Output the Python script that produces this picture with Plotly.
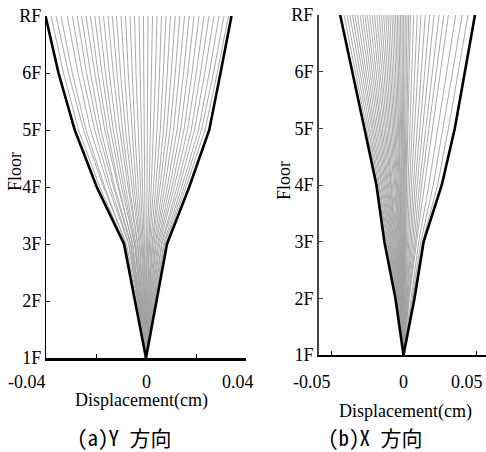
import plotly.graph_objects as go

W, H = 486, 452

FLOORS = ["1F", "2F", "3F", "4F", "5F", "6F", "RF"]
FLOOR_POS = [1, 2, 3, 4, 5, 6, 7]

# ---- (a) Y direction : displacement (cm) at 2F..RF (1F = 0) ----
ENV_A_LEFT = [-0.0044, -0.0088, -0.0197, -0.0285, -0.0350, -0.0402]
ENV_A_RIGHT = [0.0042, 0.0084, 0.0173, 0.0253, 0.0298, 0.0342]

GRAY_A = [
    [-0.0040, -0.0085, -0.0185, -0.0270, -0.0330, -0.0380],
    [-0.0035, -0.0078, -0.0170, -0.0250, -0.0310, -0.0360],
    [-0.0040, -0.0082, -0.0165, -0.0240, -0.0295, -0.0340],
    [-0.0033, -0.0070, -0.0150, -0.0222, -0.0272, -0.0315],
    [-0.0030, -0.0068, -0.0142, -0.0205, -0.0255, -0.0295],
    [-0.0032, -0.0062, -0.0130, -0.0192, -0.0238, -0.0275],
    [-0.0028, -0.0060, -0.0125, -0.0180, -0.0222, -0.0258],
    [-0.0025, -0.0052, -0.0112, -0.0165, -0.0205, -0.0240],
    [-0.0027, -0.0055, -0.0108, -0.0155, -0.0192, -0.0222],
    [-0.0022, -0.0046, -0.0098, -0.0142, -0.0176, -0.0205],
    [-0.0020, -0.0044, -0.0090, -0.0131, -0.0162, -0.0188],
    [-0.0019, -0.0040, -0.0082, -0.0118, -0.0147, -0.0170],
    [-0.0016, -0.0034, -0.0072, -0.0105, -0.0131, -0.0152],
    [-0.0017, -0.0033, -0.0066, -0.0094, -0.0116, -0.0135],
    [-0.0012, -0.0027, -0.0056, -0.0082, -0.0102, -0.0118],
    [-0.0011, -0.0024, -0.0048, -0.0070, -0.0086, -0.0100],
    [-0.0010, -0.0019, -0.0040, -0.0057, -0.0071, -0.0082],
    [-0.0007, -0.0015, -0.0031, -0.0045, -0.0055, -0.0064],
    [-0.0006, -0.0011, -0.0022, -0.0032, -0.0040, -0.0046],
    [-0.0003, -0.0007, -0.0014, -0.0019, -0.0024, -0.0028],
    [-0.0001, -0.0002, -0.0005, -0.0007, -0.0009, -0.0010],
    [0.0001, 0.0002, 0.0004, 0.0006, 0.0007, 0.0008],
    [0.0003, 0.0006, 0.0013, 0.0018, 0.0022, 0.0026],
    [0.0005, 0.0011, 0.0021, 0.0031, 0.0038, 0.0044],
    [0.0007, 0.0014, 0.0030, 0.0044, 0.0054, 0.0062],
    [0.0009, 0.0019, 0.0039, 0.0057, 0.0069, 0.0080],
    [0.0011, 0.0024, 0.0048, 0.0070, 0.0085, 0.0098],
    [0.0013, 0.0027, 0.0056, 0.0083, 0.0101, 0.0117],
    [0.0015, 0.0032, 0.0066, 0.0096, 0.0117, 0.0135],
    [0.0018, 0.0037, 0.0075, 0.0110, 0.0133, 0.0154],
    [0.0019, 0.0040, 0.0085, 0.0124, 0.0150, 0.0173],
    [0.0022, 0.0046, 0.0094, 0.0138, 0.0167, 0.0192],
    [0.0024, 0.0050, 0.0104, 0.0152, 0.0184, 0.0212],
    [0.0026, 0.0055, 0.0113, 0.0166, 0.0201, 0.0232],
    [0.0030, 0.0061, 0.0124, 0.0181, 0.0218, 0.0252],
    [0.0031, 0.0064, 0.0133, 0.0194, 0.0235, 0.0272],
    [0.0034, 0.0070, 0.0143, 0.0210, 0.0253, 0.0292],
    [0.0036, 0.0074, 0.0152, 0.0222, 0.0270, 0.0312],
    [0.0038, 0.0079, 0.0160, 0.0236, 0.0285, 0.0330],
]

# ---- (b) X direction ----
ENV_B_LEFT = [-0.0056, -0.0132, -0.0187, -0.0270, -0.0354, -0.0437]
ENV_B_RIGHT = [0.0076, 0.0139, 0.0264, 0.0354, 0.0424, 0.0493]

GRAY_B = [
    [-0.0052, -0.0122, -0.0180, -0.0255, -0.0333, -0.0410],
    [-0.0050, -0.0115, -0.0172, -0.0243, -0.0317, -0.0390],
    [-0.0047, -0.0110, -0.0165, -0.0232, -0.0300, -0.0370],
    [-0.0045, -0.0103, -0.0156, -0.0220, -0.0286, -0.0352],
    [-0.0043, -0.0098, -0.0149, -0.0210, -0.0272, -0.0335],
    [-0.0042, -0.0094, -0.0141, -0.0199, -0.0258, -0.0318],
    [-0.0038, -0.0088, -0.0133, -0.0188, -0.0244, -0.0300],
    [-0.0036, -0.0084, -0.0126, -0.0177, -0.0230, -0.0283],
    [-0.0035, -0.0078, -0.0118, -0.0166, -0.0216, -0.0266],
    [-0.0032, -0.0074, -0.0111, -0.0156, -0.0203, -0.0250],
    [-0.0030, -0.0069, -0.0104, -0.0146, -0.0189, -0.0233],
    [-0.0028, -0.0064, -0.0096, -0.0135, -0.0175, -0.0216],
    [-0.0026, -0.0059, -0.0089, -0.0125, -0.0162, -0.0200],
    [-0.0024, -0.0054, -0.0082, -0.0115, -0.0149, -0.0184],
    [-0.0022, -0.0050, -0.0075, -0.0105, -0.0136, -0.0168],
    [-0.0020, -0.0045, -0.0068, -0.0095, -0.0123, -0.0152],
    [-0.0018, -0.0040, -0.0061, -0.0086, -0.0111, -0.0137],
    [-0.0016, -0.0036, -0.0054, -0.0076, -0.0099, -0.0122],
    [-0.0014, -0.0032, -0.0048, -0.0068, -0.0088, -0.0108],
    [-0.0012, -0.0028, -0.0042, -0.0059, -0.0076, -0.0094],
    [-0.0010, -0.0024, -0.0036, -0.0050, -0.0065, -0.0080],
    [-0.0009, -0.0020, -0.0030, -0.0042, -0.0054, -0.0067],
    [-0.0007, -0.0016, -0.0024, -0.0034, -0.0045, -0.0055],
    [-0.0006, -0.0013, -0.0019, -0.0027, -0.0035, -0.0043],
    [-0.0004, -0.0009, -0.0014, -0.0020, -0.0026, -0.0032],
    [-0.0003, -0.0006, -0.0009, -0.0013, -0.0017, -0.0021],
    [-0.0001, -0.0003, -0.0004, -0.0006, -0.0008, -0.0010],
    [0.0000, 0.0000, 0.0000, 0.0001, 0.0001, 0.0001],
    [0.0002, 0.0004, 0.0005, 0.0008, 0.0010, 0.0012],
    [0.0003, 0.0007, 0.0011, 0.0015, 0.0019, 0.0024],
    [0.0005, 0.0011, 0.0016, 0.0023, 0.0029, 0.0036],
    [0.0006, 0.0014, 0.0021, 0.0030, 0.0039, 0.0048],
    [0.0009, 0.0021, 0.0031, 0.0044, 0.0057, 0.0070],
    [0.0012, 0.0028, 0.0042, 0.0059, 0.0077, 0.0095],
    [0.0016, 0.0036, 0.0054, 0.0075, 0.0097, 0.0120],
    [0.0020, 0.0045, 0.0067, 0.0094, 0.0122, 0.0150],
    [0.0024, 0.0054, 0.0080, 0.0113, 0.0146, 0.0180],
    [0.0028, 0.0063, 0.0094, 0.0132, 0.0170, 0.0210],
    [0.0032, 0.0073, 0.0110, 0.0154, 0.0199, 0.0245],
    [0.0036, 0.0083, 0.0125, 0.0175, 0.0226, 0.0278],
    [0.0040, 0.0090, 0.0145, 0.0200, 0.0255, 0.0310],
    [0.0050, 0.0105, 0.0175, 0.0235, 0.0298, 0.0360],
    [0.0060, 0.0120, 0.0205, 0.0270, 0.0338, 0.0405],
    [0.0068, 0.0132, 0.0235, 0.0310, 0.0378, 0.0445],
]

XTICKS_A = [-0.04, -0.02, 0, 0.02, 0.04]
XLABELS_A = [-0.04, 0, 0.04]
XLABELTEXT_A = ["-0.04", "0", "0.04"]
XTICKS_B = [-0.05, 0, 0.05]
XLABELS_B = [-0.05, 0, 0.05]
XLABELTEXT_B = ["-0.05", "0", "0.05"]

X_TITLE = "Displacement(cm)"
Y_TITLE = "Floor"
CAPTIONS = ["(a)Y 方向", "(b)X 方向"]

SERIF = "Liberation Serif, Times New Roman, serif"
CJK = "Noto Sans Mono CJK JP, Noto Sans CJK JP, sans-serif"
GRAY = "rgb(160,160,160)"


def px(x):
    return x / W


def py(y):
    return 1 - y / H


fig = go.Figure()


def add_panel(gray, envl, envr, xa, ya):
    for row in gray:
        fig.add_trace(go.Scatter(x=[0] + row, y=FLOOR_POS, mode="lines",
                                 line=dict(color=GRAY, width=0.9),
                                 xaxis=xa, yaxis=ya, showlegend=False,
                                 hoverinfo="skip"))
    for env in (envl, envr):
        fig.add_trace(go.Scatter(x=[0] + env, y=FLOOR_POS, mode="lines",
                                 line=dict(color="black", width=2.6),
                                 xaxis=xa, yaxis=ya, showlegend=False,
                                 hoverinfo="skip"))


add_panel(GRAY_A, ENV_A_LEFT, ENV_A_RIGHT, "x", "y")
add_panel(GRAY_B, ENV_B_LEFT, ENV_B_RIGHT, "x2", "y2")

yaxis_common = dict(range=[1, 7], tickvals=FLOOR_POS, ticktext=FLOORS,
                    ticks="inside", ticklen=4, showgrid=False, zeroline=False,
                    showline=True, automargin=False, ticklabeloverflow="allow",
                    tickfont=dict(family=SERIF, size=18, color="black"))

fig.update_layout(
    template="none",
    width=W, height=H,
    margin=dict(l=0, r=0, t=0, b=0, pad=0, autoexpand=False),
    paper_bgcolor="white", plot_bgcolor="white",
    showlegend=False,
    xaxis=dict(domain=[px(46), px(246)], range=[-0.04, 0.04], tickvals=XTICKS_A,
               showticklabels=False, ticks="inside", ticklen=4, tickcolor="black",
               showgrid=False, zeroline=False, showline=True, linecolor="black",
               linewidth=2.5, anchor="y", automargin=False),
    yaxis=dict(domain=[py(358), py(16)], linecolor="black", linewidth=1.3,
               tickcolor="black", anchor="x", **yaxis_common),
    xaxis2=dict(domain=[px(319), 1.0], range=[-0.0583, 0.0569], tickvals=XTICKS_B,
                showticklabels=False, ticks="inside", ticklen=4, tickcolor="black",
                showgrid=False, zeroline=False, showline=True, linecolor="black",
                linewidth=2.2, anchor="y2", automargin=False),
    yaxis2=dict(domain=[py(355), py(15)], linecolor="#444", linewidth=2,
                tickcolor="#444", anchor="x2", **yaxis_common),
)

serif_font = dict(family=SERIF, size=18, color="black")
ann = []
shifts_a = [-19, 0, -8]
for v, t, s in zip(XLABELS_A, XLABELTEXT_A, shifts_a):
    ann.append(dict(x=v, y=py(382), xref="x", yref="paper", text=t, showarrow=False,
                    xshift=s, xanchor="center", yanchor="middle", font=serif_font))
shifts_b = [-19, 0, -9]
for v, t, s in zip(XLABELS_B, XLABELTEXT_B, shifts_b):
    ann.append(dict(x=v, y=py(382), xref="x2", yref="paper", text=t, showarrow=False,
                    xshift=s, xanchor="center", yanchor="middle", font=serif_font))

for x, y, t, ang, f in [
    (141, 400, X_TITLE, 0, serif_font),
    (405, 411, X_TITLE, 0, serif_font),
    (15, 172, Y_TITLE, -90, serif_font),
    (284, 181, Y_TITLE, -90, serif_font),
    (124, 437, CAPTIONS[0], 0, dict(family=CJK, size=21, color="black")),
    (375, 437, CAPTIONS[1], 0, dict(family=CJK, size=21, color="black")),
]:
    ann.append(dict(x=px(x), y=py(y), xref="paper", yref="paper", text=t,
                    textangle=ang, showarrow=False, xanchor="center",
                    yanchor="middle", font=f))

fig.update_layout(annotations=ann)

fig.write_html("out.html", config={"displayModeBar": False},
               post_script="document.body.style.margin='0';")
